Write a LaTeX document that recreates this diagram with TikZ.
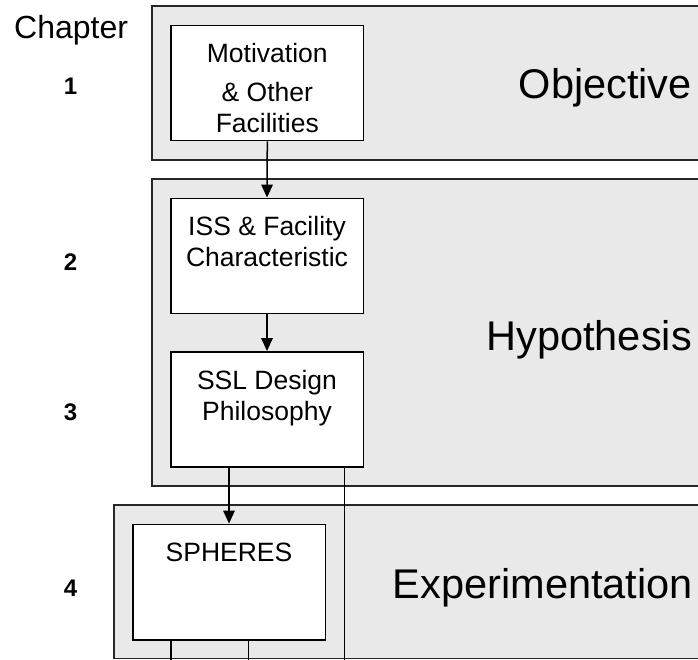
\documentclass[tikz,border=0pt]{standalone}
\usepackage{fontspec}
\setmainfont{Liberation Sans}
\usetikzlibrary{arrows.meta}
\definecolor{panelfill}{RGB}{233,233,233}
\begin{document}
\begin{tikzpicture}[x=1pt,y=-1pt,
  panel/.style={draw=black!85,line width=1.4pt,fill=panelfill},
  box/.style={draw=black,line width=1.5pt,fill=white,inner sep=0pt,
              minimum width=192.5pt,minimum height=115pt},
  boxtext/.style={inner sep=0pt,anchor=base,font=\fontsize{26.5}{30}\selectfont},
  phase/.style={inner sep=0pt,anchor=base east,font=\fontsize{41.5}{48}\selectfont},
  chap/.style={inner sep=0pt,anchor=base,font=\fontsize{24}{28}\selectfont\bfseries},
  link/.style={line width=1.5pt,draw=black},
  arr/.style={link,-{Triangle[length=13pt,width=11.5pt]}}]
\useasboundingbox (0,0) rectangle (698,659);
\clip (0,0) rectangle (698,659);

% phase panels
\draw[panel] (152,6) rectangle (730,160);
\draw[panel] (152,179) rectangle (730,486);
\draw[panel] (114,505) rectangle (730,658.3);

\node[phase] (objective) at (692,98.3) {Objective};
\node[phase] (hypothesis) at (692,350) {Hypothesis};
\node[phase] (experimentation) at (693,598.3) {Experimentation};

% chapter column
\node[inner sep=0pt,anchor=base west,font=\fontsize{32}{36}\selectfont] (chapter) at (14,38.3) {Chapter};
\node[chap] (c1) at (70.5,94) {1};
\node[chap] (c2) at (70.5,270) {2};
\node[chap] (c3) at (70.5,420) {3};
\node[chap] (c4) at (70.5,596) {4};

% content boxes
\node[box] (mot) at (267.3,83.2) {};
\node[boxtext] (motA) at (267.3,62.7) {Motivation};
\node[boxtext] (motB) at (267.3,101) {\&\ Other};
\node[boxtext] (motC) at (267.3,132.7) {Facilities};

\node[box] (iss) at (267,255.8) {};
\node[boxtext] (issA) at (267,235.7) {ISS \&\ Facility};
\node[boxtext] (issB) at (267,266.7) {Characteristic};

\node[box] (ssl) at (267,409.3) {};
\node[boxtext] (sslA) at (267,389) {SSL Design};
\node[boxtext] (sslB) at (267,420) {Philosophy};

\node[box,minimum height=115.7pt] (sph) at (229,582.2) {};
\node[boxtext] (sphA) at (229,561.7) {SPHERES};

% connectors
\coordinate (sslOut) at (344.3,662);
\coordinate (sphOutA) at (171,662);
\coordinate (sphOutB) at (248.3,662);

\draw[arr] (mot.south) -- (iss.north);
\draw[arr] (iss.south) -- (ssl.north);
\draw[arr] (ssl.south -| sph.north) -- (sph.north);
\draw[link] (ssl.south -| sslOut) -- (sslOut);
\draw[link] (sph.south -| sphOutA) -- (sphOutA);
\draw[link] (sph.south -| sphOutB) -- (sphOutB);
\end{tikzpicture}
\end{document}
